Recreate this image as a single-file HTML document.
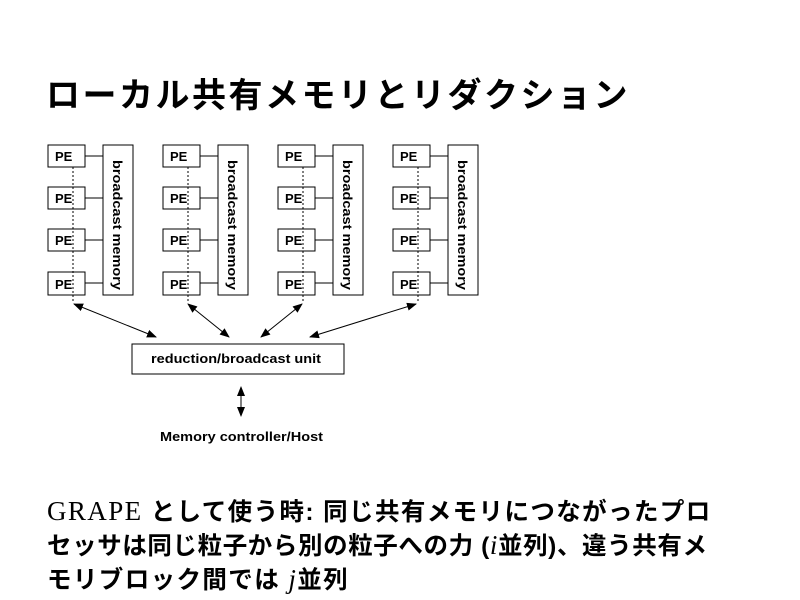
<!DOCTYPE html>
<html><head><meta charset="utf-8"><style>
body{margin:0;width:800px;height:600px;background:#fff;overflow:hidden;position:relative}
.t{position:absolute;font-family:"Liberation Sans","Noto Sans CJK JP",sans-serif;font-weight:bold;color:#000;white-space:nowrap}
.s{font-family:'Liberation Serif',serif;font-weight:normal;line-height:0}
.t div{height:34px;line-height:34px}
</style></head><body>
<div class="t" style="left:46px;top:68px;font-size:34px;letter-spacing:2.5px">ローカル共有メモリとリダクション</div>
<svg width="800" height="600" style="position:absolute;left:0;top:0">
<defs><marker id="a" markerWidth="10" markerHeight="8" refX="9" refY="4" orient="auto-start-reverse" markerUnits="userSpaceOnUse"><path d="M0,0 L10,4 L0,8 z" fill="#000"/></marker></defs>
<g font-family="Liberation Sans, sans-serif" font-weight="bold" font-size="13" fill="none" stroke="#000" stroke-width="1">
<g id="g">
<rect x="48" y="145" width="37" height="22"/>
<rect x="48" y="187" width="37" height="22"/>
<rect x="48" y="229" width="37" height="22"/>
<rect x="48" y="272" width="37" height="23"/>
<rect x="103" y="145" width="30" height="150"/>
<line x1="85" y1="156" x2="103" y2="156"/>
<line x1="85" y1="198" x2="103" y2="198"/>
<line x1="85" y1="240" x2="103" y2="240"/>
<line x1="85" y1="283" x2="103" y2="283"/>
<line x1="73" y1="167" x2="73" y2="303" stroke-dasharray="2,2"/>
<g stroke="none" fill="#000">
<text x="55" y="161">PE</text><text x="55" y="203">PE</text><text x="55" y="245">PE</text><text x="55" y="289">PE</text>
<text transform="translate(113,225) rotate(90)" text-anchor="middle" textLength="130" lengthAdjust="spacingAndGlyphs">broadcast memory</text>
</g>
</g>
<use href="#g" x="115"/><use href="#g" x="230"/><use href="#g" x="345"/>
<rect x="132" y="344" width="212" height="30"/>
<text x="151" y="363" stroke="none" fill="#000" textLength="170" lengthAdjust="spacingAndGlyphs">reduction/broadcast unit</text>
<line x1="74" y1="304" x2="156" y2="337" marker-start="url(#a)" marker-end="url(#a)"/>
<line x1="188" y1="304" x2="229" y2="337" marker-start="url(#a)" marker-end="url(#a)"/>
<line x1="302" y1="304" x2="261" y2="337" marker-start="url(#a)" marker-end="url(#a)"/>
<line x1="416" y1="304" x2="310" y2="337" marker-start="url(#a)" marker-end="url(#a)"/>
<line x1="241" y1="387" x2="241" y2="416" marker-start="url(#a)" marker-end="url(#a)"/>
<text x="160" y="441" stroke="none" fill="#000" font-size="12.5" textLength="163" lengthAdjust="spacingAndGlyphs">Memory controller/Host</text>
</g>
</svg>
<div class="t" style="left:47px;top:496px;font-size:24.5px">
<div style="letter-spacing:1.4px"><span class="s" style="font-size:27px">GRAPE</span> として使う時: 同じ共有メモリにつながったプロ</div>
<div style="letter-spacing:0.6px">セッサは同じ粒子から別の粒子への力 (<i class="s" style="font-size:27px">i</i>並列)、違う共有メ</div>
<div style="letter-spacing:1.4px">モリブロック間では <i class="s" style="font-size:27px">j</i>並列</div>
</div>
</body></html>
